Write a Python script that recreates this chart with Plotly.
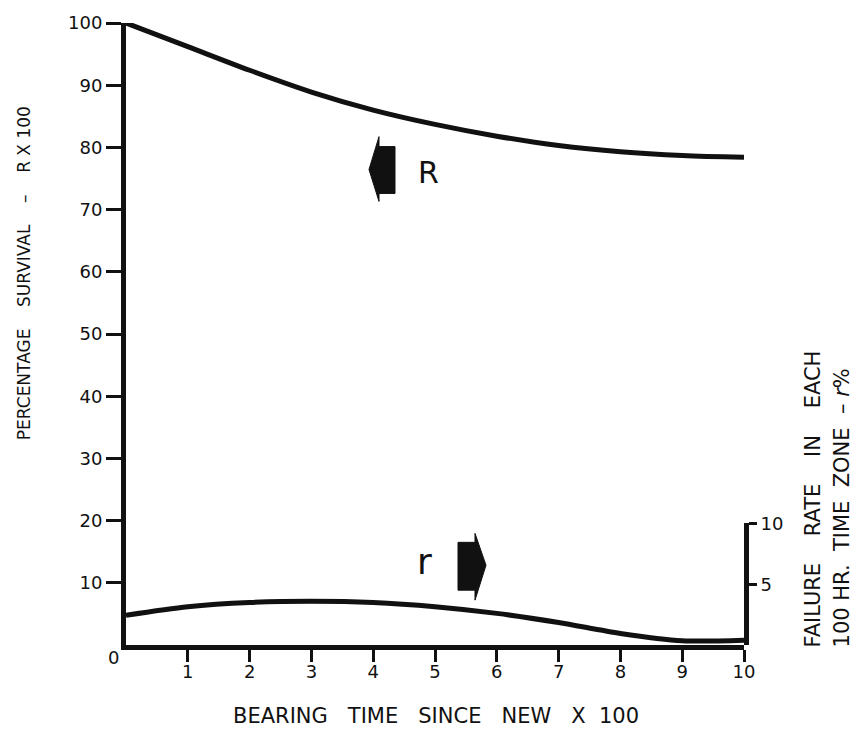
import plotly.graph_objects as go

# ---- data ----
hours = [0, 1, 2, 3, 4, 5, 6, 7, 8, 9, 10]              # bearing time since new x 100
survival_R = [100, 96.2, 92.4, 88.9, 86.0, 83.7, 81.8, 80.3, 79.3, 78.7, 78.4]   # % survival
failure_r = [2.45, 3.15, 3.5, 3.6, 3.5, 3.15, 2.6, 1.85, 0.95, 0.35, 0.4]         # failure rate %

x_ticks = [1, 2, 3, 4, 5, 6, 7, 8, 9, 10]
y_ticks = [10, 20, 30, 40, 50, 60, 70, 80, 90, 100]
r_ticks = [5, 10]

FONT = "DejaVu Sans"
INK = "#111111"

# plot-area pixel frame
L, R, T, B = 126, 744, 21, 645
W, H = 859, 730


def px_x(p):
    return (p - L) / (R - L)


def px_y(p):
    return (B - p) / (B - T)


def path(points):
    return "M " + " L ".join(f"{px_x(a):.5f},{px_y(b):.5f}" for a, b in points) + " Z"


fig = go.Figure()
fig.add_trace(go.Scatter(x=hours, y=survival_R, mode="lines",
                         line=dict(color=INK, width=5, shape="spline", smoothing=0.9),
                         xaxis="x", yaxis="y", showlegend=False, hoverinfo="skip"))
fig.add_trace(go.Scatter(x=hours, y=failure_r, mode="lines",
                         line=dict(color=INK, width=5, shape="spline", smoothing=0.8),
                         xaxis="x", yaxis="y2", showlegend=False, hoverinfo="skip"))

r_top = px_y(523)

fig.update_layout(
    width=W, height=H,
    margin=dict(l=L, r=W - R, t=T, b=H - B, pad=0),
    paper_bgcolor="white", plot_bgcolor="white",
    font=dict(family=FONT, color=INK, size=18),
    xaxis=dict(range=[0, 10], tickvals=x_ticks, ticktext=[str(v) for v in x_ticks],
               showgrid=False, zeroline=False, showline=True, linecolor=INK, linewidth=5,
               ticks="outside", ticklen=12, tickwidth=2.5, tickcolor=INK,
               ticklabelstandoff=-6, tickfont=dict(size=18, family=FONT, color=INK),
               anchor="y"),
    yaxis=dict(range=[0, 100], tickvals=y_ticks, ticktext=[str(v) for v in y_ticks],
               showgrid=False, zeroline=False, showline=True, linecolor=INK, linewidth=5,
               ticks="outside", ticklen=15, tickwidth=2.5, tickcolor=INK,
               tickfont=dict(size=18, family=FONT, color=INK), anchor="x", domain=[0, 1]),
    yaxis2=dict(range=[0, 10], domain=[0, r_top], anchor="x", side="right",
                tickvals=r_ticks, ticktext=[str(v) for v in r_ticks],
                showgrid=False, zeroline=False, showline=True, linecolor=INK, linewidth=5,
                ticks="outside", ticklen=8, tickwidth=2.5, tickcolor=INK,
                tickfont=dict(size=18, family=FONT, color=INK)),
)

nb = "\u00a0"
annotations = [
    dict(text="0", x=px_x(113), y=px_y(658), font=dict(size=18)),
    dict(text=f"BEARING{nb*3}TIME{nb*3}SINCE{nb*3}NEW{nb*3}X{nb*2}100", x=px_x(436), y=px_y(716),
         font=dict(size=21)),
    dict(text=f"PERCENTAGE{nb*4}SURVIVAL{nb*4}–{nb*4}R{nb}X{nb}100", x=px_x(24), y=px_y(272),
         textangle=-90, font=dict(size=17)),
    dict(text=f"FAILURE{nb*4}RATE{nb*4}IN{nb*4}EACH", x=px_x(813), y=px_y(650),
         textangle=-90, font=dict(size=21), yanchor="bottom"),
    dict(text=f"100{nb}HR.{nb*2}TIME{nb*2}ZONE{nb*2}–{nb}<i>r</i>%", x=px_x(842), y=px_y(650),
         textangle=-90, font=dict(size=21), yanchor="bottom"),
    dict(text="R", x=px_x(428), y=px_y(171), font=dict(size=30)),
    dict(text="r", x=px_x(424), y=px_y(561), font=dict(size=36)),
]
for a in annotations:
    a.setdefault("xanchor", "center")
    a.setdefault("yanchor", "middle")
    fig.add_annotation(xref="paper", yref="paper", showarrow=False, **a)

# block arrows pointing to the axis each curve belongs to
arrow_R = [(395, 145), (379, 145), (379, 135), (369, 168), (379, 200), (379, 192), (395, 192)]
arrow_r = [(458, 542), (475, 542), (475, 533), (486, 565), (475, 600), (475, 590), (458, 590)]
for pts in (arrow_R, arrow_r):
    fig.add_shape(type="path", path=path(pts), xref="paper", yref="paper",
                  fillcolor=INK, line=dict(color=INK, width=1))

fig.write_html("out.html")
